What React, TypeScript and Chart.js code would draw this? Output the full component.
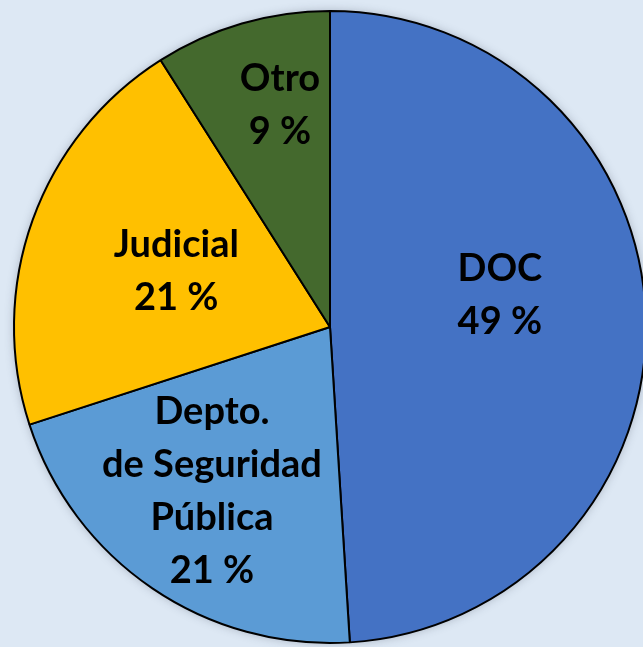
import React, { useEffect, useRef } from "react";
import { Chart, registerables } from "chart.js";

Chart.register(...registerables);

const categories = ["DOC", "Depto. de Seguridad Pública", "Judicial", "Otro"];
const labelLines = [["DOC"], ["Depto.", "de Seguridad", "Pública"], ["Judicial"], ["Otro"]];
const values = [49, 21, 21, 9];
const colors = ["#4472C4", "#5B9BD5", "#FFC000", "#44692D"];
const labelRadius = [0.547, 0.64, 0.517, 0.72];
const labelAngleShift = [-8.9, 1.5, 0, 3.5];

const BG = "#DDE8F4";
const FONT = "bold 38px Lato, 'Noto Sans', sans-serif";
const LINE_H = 53;

const shadowPlugin = {
  id: "pieShadow",
  beforeDatasetsDraw(chart: any) {
    const meta = chart.getDatasetMeta(0);
    const arc = meta.data[0];
    if (!arc) return;
    const p = arc.getProps(["x", "y", "outerRadius"], true);
    const ctx = chart.ctx;
    ctx.save();
    ctx.shadowColor = "rgba(60,70,90,0.35)";
    ctx.shadowBlur = 10;
    ctx.fillStyle = "#888";
    ctx.beginPath();
    ctx.arc(p.x, p.y, p.outerRadius, 0, Math.PI * 2);
    ctx.fill();
    ctx.restore();
  },
};

const labelPlugin = {
  id: "sliceLabels",
  afterDatasetsDraw(chart: any) {
    const ctx = chart.ctx;
    const meta = chart.getDatasetMeta(0);
    ctx.save();
    ctx.font = FONT;
    ctx.fillStyle = "#000";
    ctx.textAlign = "center";
    ctx.textBaseline = "middle";
    meta.data.forEach((arc: any, i: number) => {
      const p = arc.getProps(["x", "y", "startAngle", "endAngle", "outerRadius"], true);
      const mid = (p.startAngle + p.endAngle) / 2 + (labelAngleShift[i] * Math.PI) / 180;
      const r = p.outerRadius * labelRadius[i];
      const cx = p.x + Math.cos(mid) * r;
      const cy = p.y + Math.sin(mid) * r;
      const lines = [...labelLines[i], `${values[i]} %`];
      const top = cy - ((lines.length - 1) * LINE_H) / 2;
      lines.forEach((t, k) => ctx.fillText(t, cx, top + k * LINE_H));
    });
    ctx.restore();
  },
};

export default function App() {
  const ref = useRef<HTMLCanvasElement | null>(null);
  useEffect(() => {
    if (!ref.current) return;
    const chart = new Chart(ref.current, {
      type: "pie",
      data: {
        labels: categories,
        datasets: [
          {
            data: values,
            backgroundColor: colors,
            borderColor: "#000",
            borderWidth: 2,
          },
        ],
      },
      options: {
        responsive: false,
        animation: false,
        layout: { padding: { left: 13, top: 10, right: 13, bottom: 8 } },
        plugins: { legend: { display: false }, tooltip: { enabled: false } },
      },
      plugins: [shadowPlugin, labelPlugin],
    });
    return () => chart.destroy();
  }, []);
  return (
    <div
      style={{
        position: "fixed",
        left: 0,
        top: 0,
        width: 643,
        height: 647,
        overflow: "hidden",
        background: BG,
      }}
    >
      <canvas ref={ref} width={660} height={652} style={{ display: "block" }} />
    </div>
  );
}
